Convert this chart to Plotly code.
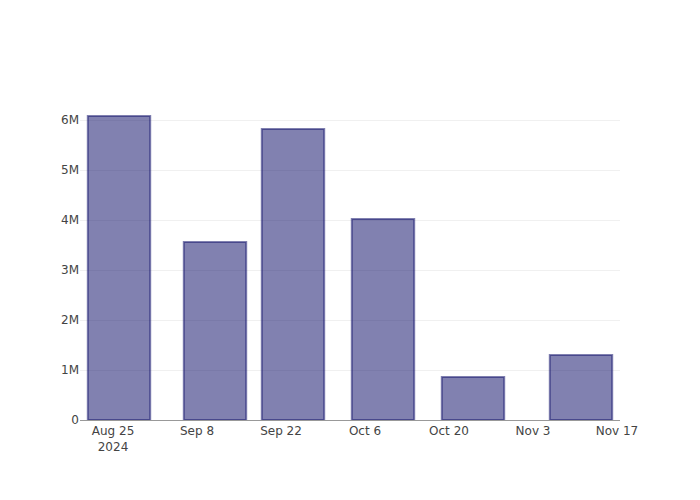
import plotly.graph_objects as go

dates = ["2024-08-26", "2024-09-11", "2024-09-24", "2024-10-09", "2024-10-24", "2024-11-11"]
values = [6.08e6, 3.56e6, 5.82e6, 4.02e6, 0.86e6, 1.30e6]

fig = go.Figure(
    go.Bar(
        x=dates,
        y=values,
        marker=dict(
            color="rgba(25,25,112,0.55)",
            line=dict(color="rgba(25,25,112,0.55)", width=2),
        ),
    )
)

fig.update_layout(
    width=700,
    height=500,
    margin=dict(l=80, r=80, t=100, b=80),
    plot_bgcolor="white",
    paper_bgcolor="white",
    showlegend=False,
    font=dict(family="DejaVu Sans", size=12, color="#444"),
    xaxis=dict(
        type="date",
        range=["2024-08-19 12:00", "2024-11-17 12:00"],
        dtick=14 * 86400000,
        tick0="2024-08-25",
        tickformat="%b %-d\n%Y",
        showgrid=False,
        showline=True,
        linecolor="#999",
        linewidth=1,
        ticks="",
    ),
    yaxis=dict(
        showgrid=True,
        gridcolor="#f0f0f0",
        zeroline=False,
        showline=False,
        ticks="",
        tickformat="~s",
    ),
)

fig.write_html("out.html")
